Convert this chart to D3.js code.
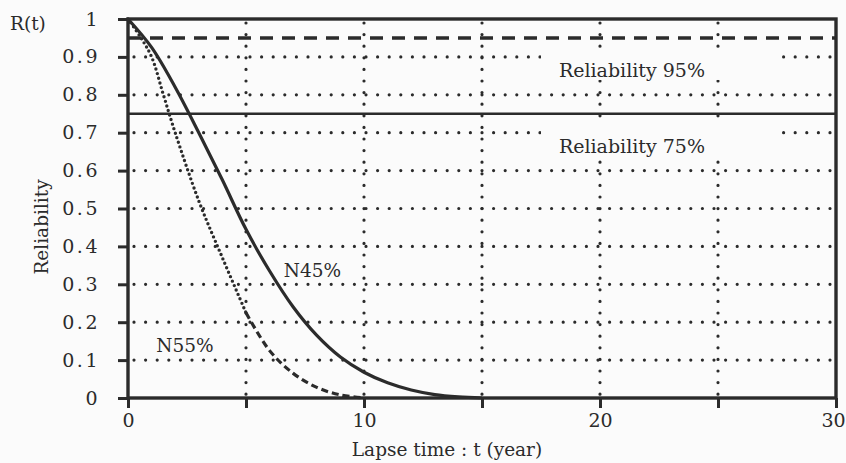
<!DOCTYPE html>
<html>
<head>
<meta charset="utf-8">
<script src="https://cdn.jsdelivr.net/npm/d3@7"></script>
<style>
  body { margin: 0; background: #fbfbfb; }
  text { font-family: "DejaVu Serif", "Liberation Serif", serif; fill: #2b2b2b; }
</style>
</head>
<body>
<div id="container"></div>
<script>
/* CONSTANTS AND GLOBALS */
const width = 846,
  height = 463,
  margin = { top: 19, bottom: 65, left: 128, right: 10 }
const ink = "#2b2b2b"

/* DATA */
const years = [0, 1, 2, 3, 4, 5, 6, 7, 8, 9, 10, 11, 12, 13, 14, 15]
const rN45 = [1.0, 0.925, 0.82, 0.70, 0.575, 0.445, 0.335, 0.24, 0.165, 0.108, 0.068, 0.04, 0.021, 0.009, 0.003, 0.0]
const yearsN55 = [0, 0.5, 1, 1.5, 2, 3, 4, 5, 6, 7, 8, 9, 10]
const rN55 = [1.0, 0.955, 0.90, 0.80, 0.70, 0.52, 0.37, 0.225, 0.125, 0.065, 0.028, 0.008, 0.0]
const refLevels = [0.95, 0.75]
const refLabels = ["Reliability 95%", "Reliability 75%"]
const curveLabels = ["N45%", "N55%"]
const yTicks = [0, 0.1, 0.2, 0.3, 0.4, 0.5, 0.6, 0.7, 0.8, 0.9, 1]
const xTicks = [0, 5, 10, 15, 20, 25, 30]
const xLabelled = [0, 10, 20, 30]
const gridY = [0.1, 0.2, 0.3, 0.4, 0.5, 0.6, 0.7, 0.8, 0.9]
const gridX = [5, 10, 15, 20, 25]

// + SCALES
const xScale = d3.scaleLinear()
  .domain([0, 30])
  .range([margin.left, width - margin.right])

const yScale = d3.scaleLinear()
  .domain([0, 1])
  .range([height - margin.bottom, margin.top])

// CREATE SVG ELEMENT
const svg = d3.select("#container")
  .append("svg")
  .attr("width", width)
  .attr("height", height)

// DOTTED GRID
svg.selectAll(".gridY")
  .data(gridY)
  .join("line")
  .attr("class", "gridY")
  .attr("x1", xScale(0) + 6)
  .attr("x2", xScale(30))
  .attr("y1", d => yScale(d))
  .attr("y2", d => yScale(d))
  .attr("stroke", ink)
  .attr("stroke-width", 3.2)
  .attr("stroke-linecap", "round")
  .attr("stroke-dasharray", "0,11.6")

svg.selectAll(".gridX")
  .data(gridX)
  .join("line")
  .attr("class", "gridX")
  .attr("x1", d => xScale(d))
  .attr("x2", d => xScale(d))
  .attr("y1", yScale(1) + 4)
  .attr("y2", yScale(0))
  .attr("stroke", ink)
  .attr("stroke-width", 3.2)
  .attr("stroke-linecap", "round")
  .attr("stroke-dasharray", "0,11.6")

// REFERENCE LINES
svg.append("line")
  .attr("x1", xScale(0))
  .attr("x2", xScale(30))
  .attr("y1", yScale(refLevels[0]))
  .attr("y2", yScale(refLevels[0]))
  .attr("stroke", ink)
  .attr("stroke-width", 3.6)
  .attr("stroke-dasharray", "13,9")

svg.append("line")
  .attr("x1", xScale(0))
  .attr("x2", xScale(30))
  .attr("y1", yScale(refLevels[1]))
  .attr("y2", yScale(refLevels[1]))
  .attr("stroke", ink)
  .attr("stroke-width", 2.6)

// label boxes hide the grid behind the text
refLevels.forEach((v, i) => {
  const yTop = yScale(v) + 10
  svg.append("rect")
    .attr("x", xScale(17.5))
    .attr("y", yTop)
    .attr("width", xScale(27.4) - xScale(17.5))
    .attr("height", 32)
    .attr("fill", "#fbfbfb")
  svg.append("text")
    .attr("x", xScale(18.3) - 1)
    .attr("y", yTop + 29)
    .style("font-size", "19px")
    .text(refLabels[i])
})

// LINE GENERATOR FUNCTION
const lineGen = d3.line()
  .x(d => xScale(d[0]))
  .y(d => yScale(d[1]))
  .curve(d3.curveCatmullRom.alpha(0.5))

const n45 = years.map((t, i) => [t, rN45[i]])
const n55 = yearsN55.map((t, i) => [t, rN55[i]])

// DRAW LINES
svg.append("path")
  .attr("fill", "none")
  .attr("stroke", ink)
  .attr("stroke-width", 3.2)
  .attr("d", lineGen(n45))

// N55: dotted on the steep part, dashed on the tail
svg.append("path")
  .attr("fill", "none")
  .attr("stroke", ink)
  .attr("stroke-width", 3.4)
  .attr("stroke-linecap", "round")
  .attr("stroke-dasharray", "0,4.8")
  .attr("d", lineGen(n55.filter(d => d[0] <= 5)))

svg.append("path")
  .attr("fill", "none")
  .attr("stroke", ink)
  .attr("stroke-width", 3.2)
  .attr("stroke-dasharray", "7,4")
  .attr("d", lineGen(n55.filter(d => d[0] >= 5)))

// curve labels
svg.append("text")
  .attr("x", xScale(6.6))
  .attr("y", yScale(0.32))
  .style("font-size", "18.5px")
  .text(curveLabels[0])

svg.append("text")
  .attr("x", xScale(1.2))
  .attr("y", yScale(0.122))
  .style("font-size", "18.5px")
  .text(curveLabels[1])

// BUILD AND CALL AXES
const yAxis = d3.axisLeft(yScale)
  .tickValues(yTicks)
  .tickSize(10)
  .tickPadding(18)
  .tickFormat(d => d === 0 || d === 1 ? d : d3.format(".1f")(d))

const yAxisGroup = svg.append("g")
  .attr("transform", `translate(${margin.left}, 0)`)
  .call(yAxis)

const xAxis = d3.axisBottom(xScale)
  .tickValues(xTicks)
  .tickSize(10)
  .tickPadding(6)
  .tickFormat(d => xLabelled.includes(d) ? d : "")

const xAxisGroup = svg.append("g")
  .attr("transform", `translate(0, ${height - margin.bottom})`)
  .call(xAxis)

svg.selectAll(".domain").remove()
svg.selectAll(".tick line").attr("stroke", ink).attr("stroke-width", 3)
svg.selectAll(".tick text")
  .attr("fill", ink)
  .style("font-family", "\"DejaVu Serif\", serif")
  .style("font-size", "19px")
yAxisGroup.selectAll(".tick text").style("letter-spacing", "2.5px")
xAxisGroup.selectAll(".tick text").filter(d => d === 30).attr("dx", -3)

// FRAME
svg.append("rect")
  .attr("x", xScale(0))
  .attr("y", yScale(1))
  .attr("width", xScale(30) - xScale(0))
  .attr("height", yScale(0) - yScale(1))
  .attr("fill", "none")
  .attr("stroke", ink)
  .attr("stroke-width", 3.4)

// AXIS TITLES
svg.append("text")
  .attr("x", 10)
  .attr("y", 30)
  .style("font-size", "18.5px")
  .text("R(t)")

svg.append("text")
  .attr("transform", "rotate(-90)")
  .attr("x", -227)
  .attr("y", 48)
  .style("text-anchor", "middle")
  .style("font-size", "18.5px")
  .text("Reliability")

svg.append("text")
  .attr("x", 447)
  .attr("y", 456)
  .style("text-anchor", "middle")
  .style("font-size", "18.5px")
  .text("Lapse time : t (year)")
</script>
</body>
</html>
